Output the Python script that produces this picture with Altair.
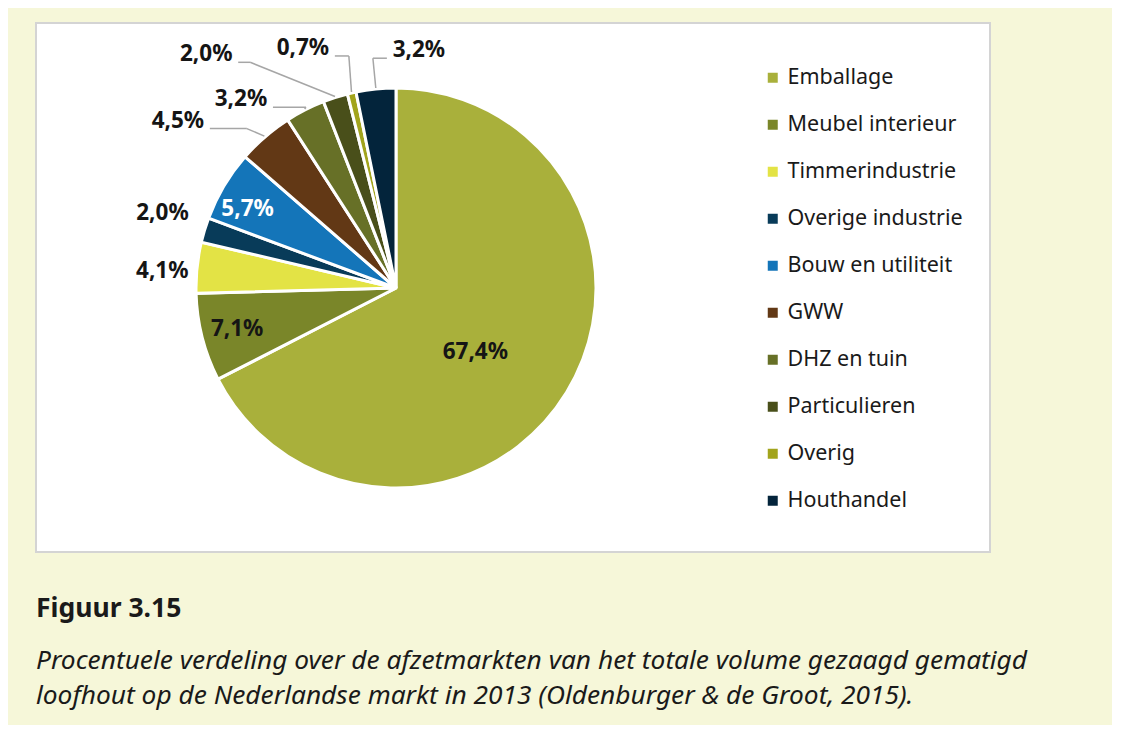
import altair as alt
import pandas as pd

categories = ["Emballage", "Meubel interieur", "Timmerindustrie", "Overige industrie",
              "Bouw en utiliteit", "GWW", "DHZ en tuin", "Particulieren", "Overig", "Houthandel"]
shares = [67.4, 7.1, 4.1, 2.0, 5.7, 4.5, 3.2, 2.0, 0.7, 3.2]
colors = ["#a9b03b", "#7a8629", "#e3e345", "#083b59", "#1475b9",
          "#623815", "#677027", "#494f1a", "#a2a41c", "#03243b"]

caption_title = "Figuur 3.15"
caption_lines = ["Procentuele verdeling over de afzetmarkten van het totale volume gezaagd gematigd",
                 "loofhout op de Nederlandse markt in 2013 (Oldenburger & de Groot, 2015)."]

labels = [f"{v:.1f}".replace(".", ",") + "%" for v in shares]

# label layout: (radius, dx, dy, leader side, leader horizontal length)
label_layout = {
    "Emballage": (100, -6, 12, 0, 0),
    "Meubel interieur": (164, 0, 0, 0, 0),
    "Timmerindustrie": (235, 0, 7, 0, 0),
    "Overige industrie": (244, 0, -4, 0, 0),
    "Bouw en utiliteit": (168, -4, 7, 0, 0),
    "GWW": (240, -61, 14, 1, 37),
    "DHZ en tuin": (240, -46, 25, 1, 33),
    "Particulieren": (240, -117, -5, 1, 12),
    "Overig": (240, -40, -6, 1, 14),
    "Houthandel": (240, 47, 1, -1, 14),
}

FONT = "Noto Sans"
CX, CY, R = 360, 265, 200

df = pd.DataFrame({
    "cat": categories,
    "value": shares,
    "idx": list(range(len(categories))),
    "label": labels,
    "lr": [label_layout[c][0] for c in categories],
    "ldx": [label_layout[c][1] for c in categories],
    "ldy": [label_layout[c][2] for c in categories],
    "side": [label_layout[c][3] for c in categories],
    "llen": [label_layout[c][4] for c in categories],
})

base = alt.Chart(df)

pie = base.mark_arc(stroke="white", strokeWidth=3, outerRadius=R).encode(
    theta=alt.Theta("value:Q", stack=True),
    order=alt.Order("idx:Q"),
    color=alt.Color(
        "cat:N",
        scale=alt.Scale(domain=categories, range=colors),
        sort=categories,
        legend=alt.Legend(
            title=None, orient="none", legendX=726, legendY=44,
            symbolType="square", symbolSize=100, symbolStrokeWidth=0, symbolOpacity=1,
            labelFontSize=21.5, labelFont=FONT, labelColor="#1a1a1a", labelLimit=400,
            rowPadding=24, labelOffset=4,
        ),
    ),
    x=alt.value(CX),
    y=alt.value(CY),
)

geo = base.transform_joinaggregate(total="sum(value)").transform_window(
    cum="sum(value)", sort=[alt.SortField("idx")], frame=[None, 0]
).transform_calculate(
    a="2*PI*(datum.cum - datum.value/2)/datum.total",
).transform_calculate(
    lx=f"{CX} + datum.lr*sin(datum.a) + datum.ldx",
    ly=f"{CY} - datum.lr*cos(datum.a) + datum.ldy",
    ex=f"{CX} + {R + 1}*sin(datum.a)",
    ey=f"{CY} - {R + 1}*cos(datum.a)",
).transform_calculate(
    endx="datum.lx + datum.side*32",
    endy="datum.ly + 8",
).transform_calculate(
    elbx="datum.endx + datum.side*datum.llen",
)

text = geo.mark_text(fontSize=22.5, fontWeight="bold", font=FONT, baseline="middle", align="center").encode(
    x=alt.X("lx:Q", scale=None, axis=None),
    y=alt.Y("ly:Q", scale=None, axis=None),
    text="label:N",
    color=alt.condition(alt.datum.cat == "Bouw en utiliteit", alt.value("white"), alt.value("#151515")),
)

lead1 = geo.transform_filter("datum.side != 0").mark_rule(color="#a6a6a6", strokeWidth=1.5).encode(
    x=alt.X("ex:Q", scale=None, axis=None),
    y=alt.Y("ey:Q", scale=None, axis=None),
    x2="elbx:Q",
    y2="endy:Q",
)
lead2 = geo.transform_filter("datum.side != 0").mark_rule(color="#a6a6a6", strokeWidth=1.5).encode(
    x=alt.X("elbx:Q", scale=None, axis=None),
    y=alt.Y("endy:Q", scale=None, axis=None),
    x2="endx:Q",
    y2="endy:Q",
)

chart = alt.layer(pie, lead1, lead2, text).properties(
    width=954,
    height=529,
    background="#f6f7d9",
    padding={"left": 28, "top": 15, "right": 84, "bottom": 16},
    title=alt.Title(
        caption_title,
        subtitle=caption_lines,
        orient="bottom", anchor="start", frame="group", offset=44,
        font=FONT, fontSize=26.5, fontWeight="bold", color="#1a1a1a",
        subtitleFont=FONT, subtitleFontSize=26.3, subtitleFontStyle="italic",
        subtitleColor="#1a1a1a", subtitlePadding=25, subtitleLineHeight=35,
    ),
).configure_view(fill="white", stroke="#d4d4d4", strokeWidth=2)

chart.save("out.html", embed_options={"renderer": "svg", "actions": False})
